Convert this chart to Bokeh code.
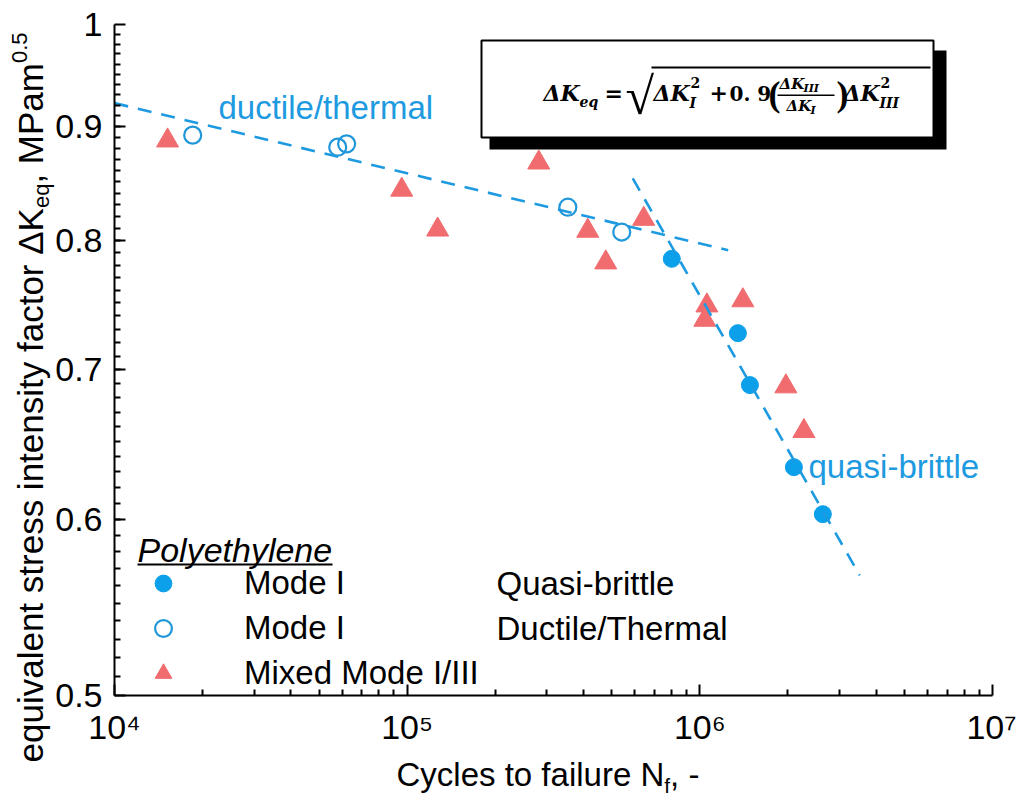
import math
from bokeh.plotting import figure
from bokeh.models import (FixedTicker, Label, BoxAnnotation, Legend, LegendItem, Range1d)
from bokeh.embed import file_html
from bokeh.resources import INLINE

# ---------------- data ----------------
brittle_N = [8.02e5, 1.349e6, 1.483e6, 2.096e6, 2.632e6]
brittle_K = [0.785, 0.727, 0.689, 0.633, 0.603]

ductile_N = [1.85e4, 5.79e4, 6.21e4, 3.54e5, 5.41e5]
ductile_K = [0.892, 0.881, 0.884, 0.828, 0.807]

mixed_N = [1.518e4, 9.58e4, 1.271e5, 2.816e5, 4.14e5, 4.77e5, 6.43e5,
           1.057e6, 1.040e6, 1.403e6, 1.968e6, 2.268e6]
mixed_K = [0.887, 0.843, 0.809, 0.867, 0.808, 0.782, 0.818,
           0.748, 0.737, 0.752, 0.688, 0.657]

fit_ductile_N = [1.0e4, 1.25e6]
fit_ductile_K = [0.922, 0.792]
fit_brittle_N = [5.9e5, 3.52e6]
fit_brittle_K = [0.853, 0.566]

x_major = [1e4, 1e5, 1e6, 1e7]
x_labels = ["10\u2074", "10\u2075", "10\u2076", "10\u2077"]
y_major = [0.5, 0.6, 0.7, 0.8, 0.9, 1.0]
y_labels = ["0.5", "0.6", "0.7", "0.8", "0.9", "1"]

legend_labels = ["Mode I", "Mode I", "Mixed Mode I/III"]
legend_notes = ["Quasi-brittle", "Ductile/Thermal"]

# ---------------- styles / layout ----------------
BLUE_FILL = "#0C9FEA"
BLUE_OPEN = "#1F97D9"
BLUE_LINE = "#1E9AE0"
RED = "#F06C6F"
FONT = "Liberation Sans"
SERIF = "Liberation Serif"
MATH = "DejaVu Serif"

W, H = 1016, 796
# pixel box of the data area (1e4..1e7, 0.5..1)
FX0, FX1, FY0, FY1 = 114, 992, 24, 695
dec = (FX1 - FX0) / 3.0
lx0 = 4 - FX0 / dec
lx1 = 7 + (W - FX1) / dec
ppu = (FY1 - FY0) / (math.log10(1.0) - math.log10(0.5))
ly1 = 0 + FY0 / ppu
ly0 = math.log10(0.5) - (H - FY1) / ppu

x_minor = [m * 10 ** e for e in (4, 5, 6) for m in range(2, 10)]
y_minor = [round(0.5 + 0.01 * i, 2) for i in range(1, 50)]

p = figure(width=W, height=H, x_axis_type="log", y_axis_type="log",
           x_range=Range1d(10 ** lx0, 10 ** lx1),
           y_range=Range1d(10 ** ly0, 10 ** ly1),
           output_backend="svg", toolbar_location=None,
           min_border_left=0, min_border_right=0,
           min_border_top=0, min_border_bottom=0)
p.outline_line_color = None
p.xgrid.grid_line_color = None
p.ygrid.grid_line_color = None
p.background_fill_color = "white"
p.border_fill_color = "white"

xa = p.xaxis[0]
ya = p.yaxis[0]
xa.fixed_location = 0.5
ya.fixed_location = 1e4
xa.bounds = (1e4, 1e7)
ya.bounds = (0.5, 1.0)
xa.ticker = FixedTicker(ticks=x_major, minor_ticks=x_minor)
ya.ticker = FixedTicker(ticks=y_major, minor_ticks=y_minor)
xa.major_label_overrides = {t: s for t, s in zip(x_major, x_labels)}
ya.major_label_overrides = {t: s for t, s in zip(y_major, y_labels)}

for ax in (xa, ya):
    ax.axis_line_width = 2
    ax.axis_line_color = "black"
    ax.major_tick_in = 11
    ax.major_tick_out = 0
    ax.minor_tick_in = 6
    ax.minor_tick_out = 0
    ax.major_tick_line_width = 2
    ax.minor_tick_line_width = 2
    ax.major_tick_line_color = "black"
    ax.minor_tick_line_color = "black"
    ax.major_label_text_font = FONT
    ax.major_label_text_font_size = "34px"
    ax.major_label_text_color = "black"
ya.major_label_standoff = 12
xa.major_label_standoff = 12

# ---------------- marks ----------------
r_b = p.scatter(brittle_N, brittle_K, marker="circle", size=17,
                fill_color=BLUE_FILL, line_color=BLUE_FILL)
r_d = p.scatter(ductile_N, ductile_K, marker="circle", size=17,
                fill_color=None, line_color=BLUE_OPEN, line_width=2.2)
r_m = p.scatter(mixed_N, mixed_K, marker="triangle", size=22,
                fill_color=RED, line_color=RED)
p.line(fit_ductile_N, fit_ductile_K, line_dash="14 10", line_width=2.6,
       line_color=BLUE_LINE)
p.line(fit_brittle_N, fit_brittle_K, line_dash="14 10", line_width=2.6,
       line_color=BLUE_LINE)

legend = Legend(items=[LegendItem(label=legend_labels[0], renderers=[r_b]),
                       LegendItem(label=legend_labels[1], renderers=[r_d]),
                       LegendItem(label=legend_labels[2], renderers=[r_m])],
                location=(142, H - 694), orientation="vertical",
                glyph_width=42, glyph_height=42, label_height=42,
                spacing=3, label_standoff=60, padding=0, margin=0,
                border_line_color=None, background_fill_alpha=0,
                label_text_font=FONT, label_text_font_size="33px",
                label_text_color="black")
p.add_layout(legend)

# ---------------- text helpers ----------------
AW = {' ': 278, ',': 278, '-': 333, '.': 278, '/': 278, 'A': 667, 'C': 722,
      'D': 722, 'I': 278, 'K': 667, 'M': 833, 'N': 722, 'P': 667, 'Q': 778,
      'T': 611, 'a': 556, 'b': 556, 'c': 500, 'd': 556, 'e': 556, 'f': 278,
      'h': 556, 'i': 222, 'l': 222, 'm': 833, 'n': 556, 'o': 556, 'q': 556,
      'r': 333, 's': 500, 't': 278, 'u': 556, 'v': 500, 'x': 500, 'y': 500,
      '\u0394': 668}
MID = {FONT: 0.3465, SERIF: 0.3375, MATH: 0.346}


def tw(s, size):
    return sum(AW.get(c, 556) for c in s) * size / 1000.0


def lab(text, x, y, size, color="black", font=FONT, style="normal",
        angle=0.0, align="left"):
    # (x, y) is the middle of the text line, canvas pixels
    p.add_layout(Label(x=x, y=y, x_units="canvas", y_units="canvas",
                       text=text, text_font=font, text_font_size=f"{size}px",
                       text_font_style=style, text_color=color, angle=angle,
                       text_baseline="middle", text_align=align))


def labb(text, x, base, size, font=FONT, style="normal", color="black"):
    lab(text, x, base - MID[font] * size, size, color=color, font=font, style=style)


def box(l, r, t, b, fill="black", line=None, lw=0):
    p.add_layout(BoxAnnotation(left=l, right=r, top=t, bottom=b,
                               left_units="canvas", right_units="canvas",
                               top_units="canvas", bottom_units="canvas",
                               fill_color=fill, fill_alpha=1.0,
                               line_color=line, line_alpha=1.0, line_width=lw,
                               level="annotation"))


# x-axis title: Cycles to failure N_f, -
xs = 396
s1 = "Cycles to failure N"
labb(s1, xs, 785, 33)
xs += tw(s1, 33)
labb("f", xs, 792, 21)
xs += tw("f", 21)
labb(", -", xs, 785, 33)

# y-axis title (rotated): equivalent stress intensity factor ΔK_eq, MPam^0.5
a = math.pi / 2
YS = 35
ys = 762
xb = 42          # baseline x of the rotated text
s1 = "equivalent stress intensity factor \u0394K"
lab(s1, xb - MID[FONT] * YS, ys, YS, angle=a)
ys -= tw(s1, YS)
lab("eq", xb + 7 - MID[FONT] * 22, ys, 22, angle=a)
ys -= tw("eq", 22)
lab(", MPam", xb - MID[FONT] * YS, ys, YS, angle=a)
ys -= tw(", MPam", YS)
lab("0.5", xb - 15 - MID[FONT] * 22, ys, 22, angle=a)

# curve annotations
lab("ductile/thermal", 218, 107, 33, color=BLUE_LINE)
lab("quasi-brittle", 808, 466, 33, color=BLUE_LINE)

# legend title and notes
lab("Polyethylene", 137, 549, 34, style="italic")
box(137, 332, 563, 565)
lab(legend_notes[0], 496, 583, 33)
lab(legend_notes[1], 496, 628, 33)

# formula box with shadow
box(489, 946, 50, 149)
box(481, 933, 40, 137, fill="white", line="black", lw=2)
BI = "bold italic"
labb("\u0394K", 543, 100, 22, font=MATH, style=BI)
labb("eq", 579, 106, 14, font=MATH, style=BI)
labb("=", 604, 100, 22, font=MATH, style="bold")
labb("\u221A", 625, 114, 52, font=SERIF)
box(651, 930, 66, 68)
labb("\u0394K", 653, 100, 22, font=MATH, style=BI)
labb("2", 690, 87, 14, font=MATH, style="bold")
labb("I", 689, 107, 14, font=MATH, style=BI)
labb("+", 709, 100, 22, font=MATH, style="bold")
labb("0. 9", 729, 100, 20, font=MATH, style="bold")
labb("(", 768, 106, 36, font=SERIF, style="bold")
labb("\u0394K", 779, 89, 15, font=MATH, style=BI)
labb("III", 803, 92, 11, font=MATH, style=BI)
box(777, 834, 94, 95.5)
labb("\u0394K", 786, 111, 15, font=MATH, style=BI)
labb("I", 810, 114, 11, font=MATH, style=BI)
labb(")", 836, 106, 36, font=SERIF, style="bold")
labb("\u0394K", 843, 100, 22, font=MATH, style=BI)
labb("2", 880, 87, 14, font=MATH, style="bold")
labb("III", 879, 107, 14, font=MATH, style=BI)

open("out.html", "w").write(file_html(p, INLINE))
